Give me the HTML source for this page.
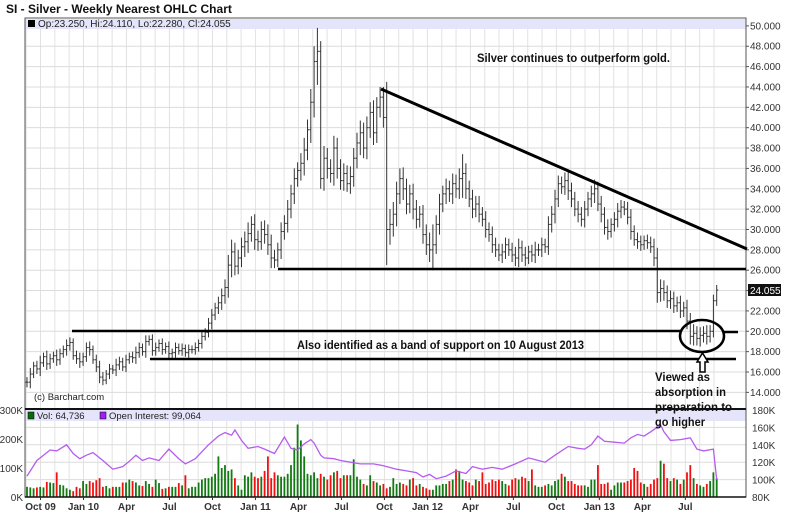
<!DOCTYPE html>
<html><head><meta charset="utf-8">
<style>
body{margin:0;background:#fff;width:800px;height:532px;overflow:hidden;font-family:"Liberation Sans",sans-serif;}
svg{display:block}
</style></head>
<body>
<svg id="chart" width="800" height="532" xmlns="http://www.w3.org/2000/svg" font-family="Liberation Sans, sans-serif">
<text x="6" y="13" font-size="12" font-weight="bold" fill="#111">SI - Silver - Weekly Nearest OHLC Chart</text>
<g id="grid"></g>
<rect x="25" y="19" width="721" height="10" fill="#e4e4fb"/>
<rect x="25" y="410" width="721" height="11" fill="#e4e4fb"/>
<g id="bars"></g>
<g id="vol"></g>
<path id="oi" fill="none" stroke="#b65cf0" stroke-width="1.3"/>
<g id="axes"></g>
<g>
<rect x="28" y="20" width="7" height="7" fill="#000"/>
<text x="38" y="27" font-size="10" fill="#222">Op:23.250, Hi:24.110, Lo:22.280, Cl:24.055</text>
</g>
<g>
<rect x="28" y="412" width="6" height="7" fill="#0a6a0a" stroke="#000" stroke-width="0.5"/>
<text x="37" y="419" font-size="9.5" fill="#222">Vol: 64,736</text>
<rect x="100" y="412" width="6" height="7" fill="#a020f0" stroke="#000" stroke-width="0.5"/>
<text x="109" y="419" font-size="9.5" fill="#222">Open Interest: 99,064</text>
</g>
<text x="34" y="400" font-size="9.5" fill="#222">(c) Barchart.com</text>
<g stroke="#000" fill="none">
<line x1="381" y1="89" x2="747" y2="249" stroke-width="3"/>
<line x1="278" y1="269" x2="746" y2="269" stroke-width="2.5"/>
<line x1="72" y1="331" x2="681" y2="331" stroke-width="2.5"/>
<line x1="723" y1="332" x2="738" y2="332" stroke-width="2.5"/>
<line x1="150" y1="359" x2="736" y2="359" stroke-width="2.5"/>
<ellipse cx="702" cy="336" rx="22" ry="16" stroke-width="2.5"/>
<path d="M700,372 L700,362 L697,362 L702.5,353 L708,362 L705,362 L705,372 Z" stroke-width="1.5" fill="#fff"/>
</g>
<text x="477" y="62" font-size="12" font-weight="bold" fill="#111" textLength="193" lengthAdjust="spacingAndGlyphs">Silver continues to outperform gold.</text>
<text x="297" y="349" font-size="12" font-weight="bold" fill="#111" textLength="287" lengthAdjust="spacingAndGlyphs">Also identified as a band of support on 10 August 2013</text>
<g font-size="12" font-weight="bold" fill="#111">
<text x="655" y="381" textLength="55" lengthAdjust="spacingAndGlyphs">Viewed as</text>
<text x="655" y="396" textLength="71" lengthAdjust="spacingAndGlyphs">absorption in</text>
<text x="655" y="411" textLength="77" lengthAdjust="spacingAndGlyphs">preparation to</text>
<text x="655" y="426" textLength="50" lengthAdjust="spacingAndGlyphs">go higher</text>
</g>
<rect x="748" y="284" width="33" height="12" fill="#111"/>
<text x="750" y="294" font-size="10" fill="#fff">24.055</text>
</svg>
<script>
const closes=[15.0,15.8,16.6,16.3,16.9,17.5,16.8,17.3,17.6,17.2,
17.8,18.2,18.6,18.9,17.6,17.3,17.0,17.5,18.4,18.2,
17.2,16.5,15.5,15.2,15.8,16.3,16.2,16.7,17.0,16.5,
17.2,17.5,17.4,17.9,18.4,18.0,19.0,19.2,18.1,18.4,
18.8,18.2,18.5,17.8,17.9,18.4,18.1,18.3,17.9,18.2,
18.2,18.4,18.8,19.5,19.9,20.8,21.6,22.3,22.8,23.5,
24.3,26.5,27.8,26.4,27.2,28.3,28.8,29.6,30.5,29.0,
28.8,30.0,29.5,28.5,27.2,27.0,28.0,29.8,30.6,32.0,
33.5,35.0,35.8,36.5,37.8,39.8,42.5,46.5,47.5,35.0,
37.0,36.0,35.5,38.0,36.0,34.8,35.5,34.5,35.2,37.0,
38.5,39.5,38.0,40.0,41.5,39.5,42.0,43.0,41.0,30.0,
30.5,31.5,33.5,35.0,34.0,32.5,33.5,32.0,31.0,31.5,
29.5,28.5,28.0,28.5,30.5,32.5,33.5,34.0,33.5,34.5,
34.0,35.0,35.5,34.0,33.0,32.0,32.5,31.5,31.0,30.0,
29.5,28.5,28.0,27.5,27.8,28.5,28.0,27.5,27.2,28.2,
27.5,27.2,27.8,27.5,28.0,28.0,28.5,28.3,30.5,31.5,
33.0,34.5,34.2,34.8,33.8,33.0,32.0,31.5,31.0,32.0,
33.0,33.5,34.0,32.5,31.5,30.2,29.8,30.5,31.0,31.8,
32.2,32.0,31.2,29.8,29.0,28.8,28.5,28.9,28.7,28.3,
27.2,23.8,24.2,23.8,23.0,23.2,22.5,22.8,22.0,22.3,
21.0,19.5,19.8,19.3,19.6,19.8,19.5,20.0,23.0,24.05];
const wicks=[.5,.6,.4,.5,.7,.4,.6,.5,.4,.6,
.5,.4,.6,.5,.4,.5,.6,.4,.5,.6,
.4,.5,.6,.5,.4,.5,.4,.6,.5,.4,
.5,.4,.5,.6,.5,.4,.6,.4,.5,.5,
.4,.5,.4,.5,.4,.5,.4,.5,.4,.5,
.4,.5,.4,.5,.4,.5,.6,.5,.6,.7,
.8,1.0,1.2,.9,.8,.9,1.0,1.1,.8,1.0,
.9,.8,.9,1.0,1.0,.8,.7,.9,.8,.9,
.9,1.0,.8,1.0,1.2,1.0,1.3,1.5,2.3,1.0,
1.2,1.0,.9,1.2,1.0,.9,1.0,.8,1.0,1.0,
1.0,1.2,1.0,1.1,1.0,1.2,1.0,1.0,1.0,3.5,
1.5,1.2,1.2,1.0,1.1,1.0,.9,1.0,.9,.8,
.9,1.0,1.2,2.0,.9,1.0,.8,1.0,.8,1.0,
.9,1.0,1.9,1.0,.8,.9,.8,.8,.7,.8,
.7,.8,.7,.6,.8,.7,.6,.7,.8,.9,
.7,.8,.6,.7,.8,.6,.7,.6,.8,.8,
.9,.8,.7,.8,.9,.8,.7,.8,.7,.8,
.7,.8,.9,.7,.8,.7,.8,.6,.7,.8,
.7,.6,.7,.8,.6,.7,.6,.5,.6,.6,
.8,1.0,.9,.8,.7,.8,.7,.6,.7,.6,
.8,.8,.9,.7,.8,.7,.8,.6,.6,.5];
const volumes=[35,33,30,33,35,33,52,50,48,85,
42,40,30,25,20,35,30,55,45,55,
50,58,65,35,38,30,35,35,35,50,
50,60,55,50,40,38,55,45,35,60,
48,28,30,35,35,35,48,40,75,30,
35,35,50,60,65,65,70,80,140,100,
110,90,95,65,40,25,75,70,85,70,
65,70,90,140,65,85,75,70,70,80,
110,170,250,195,140,80,75,85,65,80,
70,60,75,85,90,65,75,75,75,130,
70,60,45,40,75,55,50,40,45,30,
35,65,45,50,45,40,60,65,40,45,
35,30,25,25,40,40,45,45,55,60,
95,90,60,55,50,40,60,55,85,45,
50,60,55,60,55,45,40,60,65,60,
70,65,55,95,40,35,35,40,45,40,
55,60,80,70,55,55,45,40,40,40,
35,60,60,110,45,45,50,25,40,50,
50,50,55,60,100,90,50,45,35,45,
60,65,125,115,65,55,65,60,45,60,
85,110,65,45,40,35,45,55,85,65];
const oiWeeks=[0,3,5,7,9,12,14,16,18,20,23,26,29,31,33,35,37,40,43,46,48,51,55,58,60,62,63,65,67,70,72,75,78,80,82,84,86,87,89,90,93,95,98,101,105,108,112,115,118,120,122,124,127,130,133,135,138,141,144,148,152,155,157,160,164,167,169,171,173,175,178,181,183,185,187,189,192,193,195,198,201,203,205,208,209];
const oiValues=[104,122,128,134,133,140,130,124,128,131,122,112,115,121,128,122,125,122,135,124,118,124,140,150,154,151,157,145,136,138,135,130,149,136,134,141,146,142,128,125,124,122,120,118,118,116,112,110,108,103,106,101,104,110,107,115,112,114,112,118,125,122,120,128,138,136,135,140,150,144,143,142,148,152,150,155,163,155,145,146,148,135,133,135,100];
const priceTicks=[14,16,18,20,22,24,26,28,30,32,34,36,38,40,42,44,46,48,50];
const volTicks=[0,100,200,300];
const oiTicks=[80,100,120,140,160,180];
const monthLabels=["Oct 09","Jan 10","Apr","Jul","Oct","Jan 11","Apr","Jul","Oct","Jan 12","Apr","Jul","Oct","Jan 13","Apr","Jul"];

const NS="http://www.w3.org/2000/svg";
const L=25,R=746,PT=19,PB=408,VT=410,VB=497;
const xW=i=>27+i*3.3;
const yP=v=>372-(v-16)*10.18;
const yV=k=>VB-k*(VB-VT)/300;
const yOI=k=>VB-(k-80)*(VB-VT)/100;
const xM=m=>40.5+m*14.33;
function mk(tag,attrs,parent){const e=document.createElementNS(NS,tag);for(const k in attrs)e.setAttribute(k,attrs[k]);parent.appendChild(e);return e;}

const grid=document.getElementById('grid');
for(let m=-1;m<48;m++){const x=xM(m);if(x<L||x>R)continue;
  mk('line',{x1:x,y1:PT,x2:x,y2:PB,stroke:'#e2e2e2','stroke-width':1},grid);
  mk('line',{x1:x,y1:VT,x2:x,y2:VB,stroke:'#e2e2e2','stroke-width':1},grid);}
priceTicks.forEach(v=>{const y=yP(v);if(y<PT||y>PB)return;
  const ln=mk('line',{x1:L,y1:y,x2:R,y2:y,stroke:'#dcdcdc','stroke-width':1},grid);
  
  });
oiTicks.forEach(v=>{const y=yOI(v);mk('line',{x1:L,y1:y,x2:R,y2:y,stroke:'#dcdcdc','stroke-width':1},grid);});

const bars=document.getElementById('bars');
closes.forEach((c,i)=>{const o=i>0?closes[i-1]:c;const x=xW(i);
  const hi=Math.max(o,c)+wicks[i],lo=Math.min(o,c)-wicks[i];
  const g=mk('g',{stroke:'#333','stroke-width':1},bars);
  
  
  mk('line',{x1:x,y1:yP(hi),x2:x,y2:yP(lo)},g);
  mk('line',{x1:x-1.5,y1:yP(o),x2:x,y2:yP(o)},g);
  mk('line',{x1:x,y1:yP(c),x2:x+1.5,y2:yP(c)},g);});

const vol=document.getElementById('vol');
volumes.forEach((v,i)=>{const up=i===0||closes[i]>=closes[i-1];
  const r=mk('rect',{x:xW(i)-0.9,y:yV(v),width:1.8,height:VB-yV(v),fill:up?'#127a12':'#f01010'},vol);
  
  });

document.getElementById('oi').setAttribute('d',oiWeeks.map((w,j)=>(j?'L':'M')+xW(w).toFixed(1)+','+yOI(oiValues[j]).toFixed(1)).join(' '));

const axes=document.getElementById('axes');
mk('rect',{x:L,y:PT-1,width:R-L,height:VB-PT+1,fill:'none',stroke:'#555','stroke-width':1},axes);
mk('line',{x1:L,y1:409,x2:R,y2:409,stroke:'#111','stroke-width':2},axes);
mk('line',{x1:L,y1:VB,x2:R,y2:VB,stroke:'#111','stroke-width':1.5},axes);
priceTicks.forEach(v=>{const y=yP(v);if(y<PT||y>PB-4)return;
  mk('line',{x1:R,y1:y,x2:R+3,y2:y,stroke:'#555'},axes);
  const t=mk('text',{x:R+4,y:y+3.5,'font-size':10,fill:'#333'},axes);t.textContent=v.toFixed(3);
  
  });
oiTicks.forEach(v=>{const y=yOI(v);
  const t=mk('text',{x:R+6,y:y+4,'font-size':10,fill:'#333'},axes);t.textContent=v+'K';
  
  });
volTicks.forEach(v=>{const y=yV(v);
  const t=mk('text',{x:L-2,y:y+4,'font-size':10,fill:'#333','text-anchor':'end'},axes);t.textContent=v+'K';
  
  });
monthLabels.forEach((s,j)=>{const x=xM(j*3);
  mk('line',{x1:x,y1:VB,x2:x,y2:VB+3,stroke:'#333'},axes);
  const t=mk('text',{x:x,y:510,'font-size':10,'font-weight':'bold',fill:'#333','text-anchor':'middle'},axes);t.textContent=s;
  
  });
</script>
</body></html>
